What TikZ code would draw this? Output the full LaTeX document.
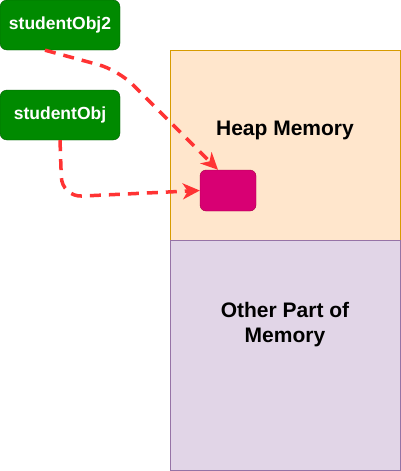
\documentclass[tikz,border=0pt]{standalone}
\usepackage{fontspec}
\setmainfont{Liberation Sans}
\usetikzlibrary{arrows.meta}

\definecolor{refgreen}{HTML}{008A00}
\definecolor{refgreendark}{HTML}{005700}
\definecolor{heapfill}{HTML}{FFE6CC}
\definecolor{heapline}{HTML}{D79B00}
\definecolor{otherfill}{HTML}{E1D5E7}
\definecolor{otherline}{HTML}{9673A6}
\definecolor{objfill}{HTML}{D80073}
\definecolor{objline}{HTML}{A50040}
\definecolor{arrowred}{HTML}{FF3333}

\begin{document}
\begin{tikzpicture}[x=1pt, y=-1pt,
ref/.style={rectangle, rounded corners=7pt, draw=refgreendark, fill=refgreen, text=white, font=\fontsize{17.5}{20}\selectfont\bfseries, minimum width=120pt, minimum height=50pt, inner sep=0pt},
region/.style={rectangle, line width=0.8pt, minimum width=230pt, inner sep=0pt, anchor=north west},
label/.style={font=\fontsize{21}{25}\selectfont\bfseries, align=center},
pointer/.style={draw=arrowred, line width=3.5pt, dash pattern=on 11pt off 8pt, rounded corners=20pt, -{Stealth[length=17pt, width=16pt, inset=5pt]}}
]
\useasboundingbox (0,0) rectangle (401,471);
%Memory
\node[region, draw=heapline, fill=heapfill, minimum height=190pt]   (heap)  at (170,50)  {};
\node[region, draw=otherline, fill=otherfill, minimum height=230pt] (other) at (170,240) {};
\node[label]     (heaplbl)   at (285,130)   {Heap Memory};
\node[label]     (otherlbl)  at (285,325)   {Other Part of\\Memory};
\node[rectangle, rounded corners=6pt, draw=objline, fill=objfill, minimum width=56pt, minimum height=41pt] (obj) at (228,190.5) {};
%References
\node[ref]       (s2)   at (60,25)    {studentObj2};
\node[ref]       (s1)   at (60,115)   {studentObj};
%Arrows
\draw[pointer] (s2.south -| 45,0) -- (118,70) -- (obj.north -| 218,0);
\draw[pointer] (s1.south) -- (62,197) -- (obj.west);
\end{tikzpicture}
\end{document}
